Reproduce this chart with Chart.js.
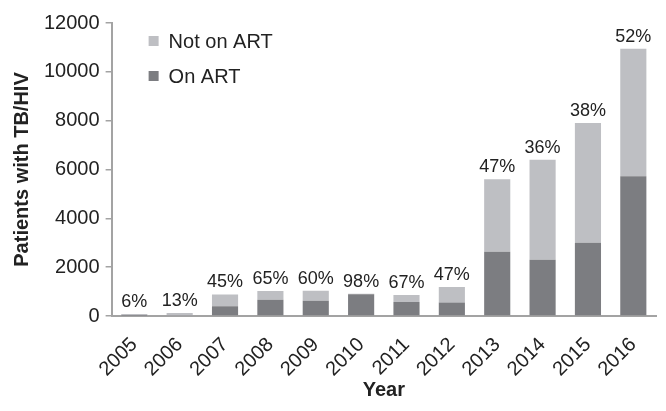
<!DOCTYPE html>
<html>
<head>
<meta charset="utf-8">
<script src="https://cdn.jsdelivr.net/npm/chart.js@4.4.1/dist/chart.umd.min.js"></script>
<style>
  html, body { margin: 0; padding: 0; background: #fff; }
  #wrap { width: 666px; height: 411px; }
</style>
</head>
<body>
<div id="wrap"><canvas id="chart"></canvas></div>
<script>
// Data
const years = ['2005', '2006', '2007', '2008', '2009', '2010', '2011', '2012', '2013', '2014', '2015', '2016'];
const onArt = [5, 16, 400, 665, 620, 892, 575, 555, 2630, 2300, 3000, 5720];
const notOnArt = [75, 104, 480, 355, 410, 18, 285, 635, 2970, 4100, 4900, 5230];
const pctLabels = ['6%', '13%', '45%', '65%', '60%', '98%', '67%', '47%', '47%', '36%', '38%', '52%'];
const yTicks = [0, 2000, 4000, 6000, 8000, 10000, 12000];

const FONT = "'Liberation Sans', Arial, sans-serif";
const AXIS_GRAY = '#a3a3a3';

// Percentages above each stacked bar
const pctPlugin = {
    id: 'pctLabels',
    afterDatasetsDraw(chart) {
        const ctx = chart.ctx;
        const top = chart.getDatasetMeta(1);
        ctx.save();
        ctx.font = '18px ' + FONT;
        ctx.fillStyle = '#222';
        ctx.textAlign = 'center';
        ctx.textBaseline = 'bottom';
        top.data.forEach(function(bar, i) {
            ctx.fillText(pctLabels[i], bar.x, bar.y - 3);
        });
        ctx.restore();
    }
};

// Legend drawn inside the plot, top-left
const innerLegend = {
    id: 'innerLegend',
    afterDraw(chart) {
        const ctx = chart.ctx;
        const area = chart.chartArea;
        const items = [chart.data.datasets[1], chart.data.datasets[0]];
        ctx.save();
        ctx.font = '20px ' + FONT;
        ctx.textBaseline = 'middle';
        items.forEach(function(ds, i) {
            const y = area.top + 18 + i * 35;
            const x = area.left + 37;
            ctx.fillStyle = ds.backgroundColor;
            ctx.fillRect(x, y - 5, 10, 10);
            ctx.fillStyle = '#222';
            ctx.fillText(ds.label, x + 20, y + 1);
        });
        ctx.restore();
    }
};

new Chart(document.getElementById('chart'), {
    type: 'bar',
    data: {
        labels: years,
        datasets: [
            { label: 'On ART', data: onArt, backgroundColor: '#7c7d81', categoryPercentage: 0.64, barPercentage: 0.9 },
            { label: 'Not on ART', data: notOnArt, backgroundColor: '#bebfc3', categoryPercentage: 0.64, barPercentage: 0.9 }
        ]
    },
    options: {
        responsive: true,
        maintainAspectRatio: false,
        animation: false,
        layout: { padding: { top: 23, right: 10, left: 10, bottom: 9 } },
        plugins: {
            legend: { display: false },
            tooltip: { enabled: false }
        },
        scales: {
            x: {
                stacked: true,
                afterFit(axis) { axis.height = 86; },
                grid: { display: false },
                border: { display: true, color: AXIS_GRAY, width: 2 },
                ticks: {
                    color: '#222',
                    font: { family: FONT, size: 20 },
                    maxRotation: 45,
                    minRotation: 45,
                    padding: 9
                },
                title: {
                    display: true,
                    text: 'Year',
                    color: '#222',
                    font: { family: FONT, size: 20, weight: 'bold' },
                    padding: { top: 2, bottom: 0 }
                }
            },
            y: {
                stacked: true,
                min: 0,
                max: 12000,
                afterBuildTicks(axis) {
                    axis.ticks = yTicks.map(function(v) { return { value: v }; });
                },
                grid: { drawOnChartArea: false, drawTicks: true, tickLength: 6, color: AXIS_GRAY, lineWidth: 1.5 },
                border: { display: true, color: AXIS_GRAY, width: 2 },
                ticks: {
                    color: '#222',
                    font: { family: FONT, size: 20 },
                    padding: 6,
                    callback: function(v) { return String(v); }
                },
                title: {
                    display: true,
                    text: 'Patients with TB/HIV',
                    color: '#222',
                    font: { family: FONT, size: 20, weight: 'bold' },
                    padding: { top: 0, bottom: 4 }
                }
            }
        }
    },
    plugins: [pctPlugin, innerLegend]
});
</script>
</body>
</html>
